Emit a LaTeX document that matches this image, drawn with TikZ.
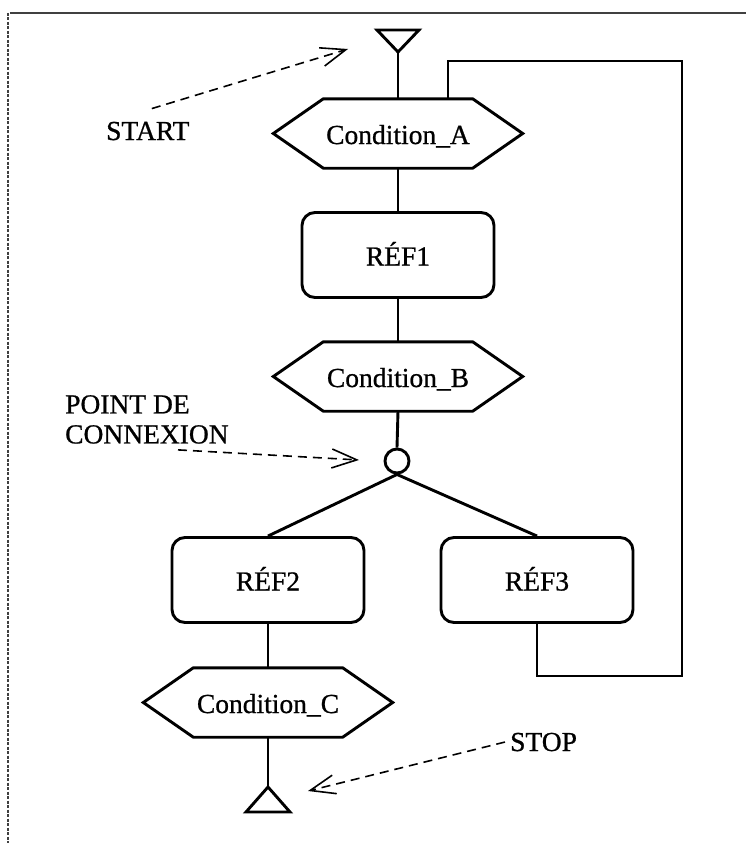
\documentclass[tikz,border=0pt]{standalone}
\usepackage{fontspec}
\setmainfont{Liberation Serif}
\usetikzlibrary{arrows.meta}

\begin{document}
\begin{tikzpicture}[x=1pt, y=-1pt]

  % Styles
  \tikzset{
    flow/.style={line width=2.9pt},
    txt/.style={font=\fontsize{27.5}{30}\selectfont\addfontfeature{FakeBold=0.8}},
    refbox/.style={draw, flow, txt, rounded corners=13pt, minimum width=192pt,
      minimum height=85pt, text height=21pt, text depth=0pt},
    condhex/.style={txt, minimum width=249pt, minimum height=69pt, inner sep=0pt,
      text height=21pt, text depth=0pt},
    junction/.style={circle, draw, flow, minimum size=24pt, inner sep=0pt},
    note/.style={txt, inner sep=0pt, align=left},
    pointer/.style={line width=1.6pt, dash pattern=on 9pt off 6pt,
      -{Straight Barb[length=25pt, width=19pt, line width=1.6pt]}},
    frame/.style={line width=1.3pt, black!75}
  }

  \useasboundingbox (0,0) rectangle (746,843);

  % --- FRAME ---
  \draw[frame] (10,13) -- (746,13);
  \draw[frame, dash pattern=on 3pt off 1.5pt] (8,13) -- (8,843);

  % --- STEPS AND CONDITIONS ---
  \node[condhex] (cA) at (398,133.5) {Condition\_A};
  \node[refbox] (r1) at (398,255) {RÉF1};
  \node[condhex] (cB) at (398,376.5) {Condition\_B};
  \node[junction] (cp) at (397,461) {};
  \node[refbox] (r2) at (268,580) {RÉF2};
  \node[refbox] (r3) at (537,580) {RÉF3};
  \node[condhex] (cC) at (268,702.5) {Condition\_C};

  % Hexagon outlines of the conditions
  \foreach \n in {cA,cB,cC}
    \draw[flow] (\n.west) -- ([xshift=50pt]\n.north west)
      -- ([xshift=-50pt]\n.north east) -- (\n.east)
      -- ([xshift=-50pt]\n.south east) -- ([xshift=50pt]\n.south west) -- cycle;

  % --- START / STOP TRIANGLES ---
  \coordinate (start) at (398,52);
  \draw[flow] (start) -- ++(-21,-22) -- ++(42,0) -- cycle;
  \coordinate (stop) at (268,787);
  \draw[flow] (stop) -- ++(-22,25) -- ++(44,0) -- cycle;

  % --- LINKS ---
  \draw[flow] (start) -- (cA.north);
  \draw[flow] (cA.south) -- (r1.north);
  \draw[flow] (r1.south) -- (cB.north);
  \draw[flow] (cB.south) -- (cp.north);
  \draw[flow] (cp.south) -- (r2.north);
  \draw[flow] (cp.south) -- (r3.north);
  \draw[flow] (r2.south) -- (cC.north);
  \draw[flow] (cC.south) -- (stop);

  % Loop back from RÉF3 to Condition_A
  \coordinate (loopSE) at (682,676);
  \coordinate (loopNE) at (682,61);
  \draw[flow] (r3.south) |- (loopSE) -- (loopNE) -| ([xshift=50pt]cA.north);

  % --- ANNOTATIONS ---
  \node[note, anchor=base west] (startlbl) at (106,140) {START};
  \coordinate (startto) at (348,49);
  \draw[pointer] ([shift={(4,-13)}]startlbl.north) -- (startto);

  \node[note, anchor=north west] (cnxlbl) at (65,395) {POINT DE\\CONNEXION};
  \coordinate (cnxto) at (359,460);
  \draw[pointer] ([shift={(113,6)}]cnxlbl.south west) -- (cnxto);

  \node[note, anchor=base west] (stoplbl) at (510,751) {STOP};
  \coordinate (stopto) at (308,791);
  \draw[pointer] ([xshift=-5pt]stoplbl.west) -- (stopto);

\end{tikzpicture}
\end{document}
